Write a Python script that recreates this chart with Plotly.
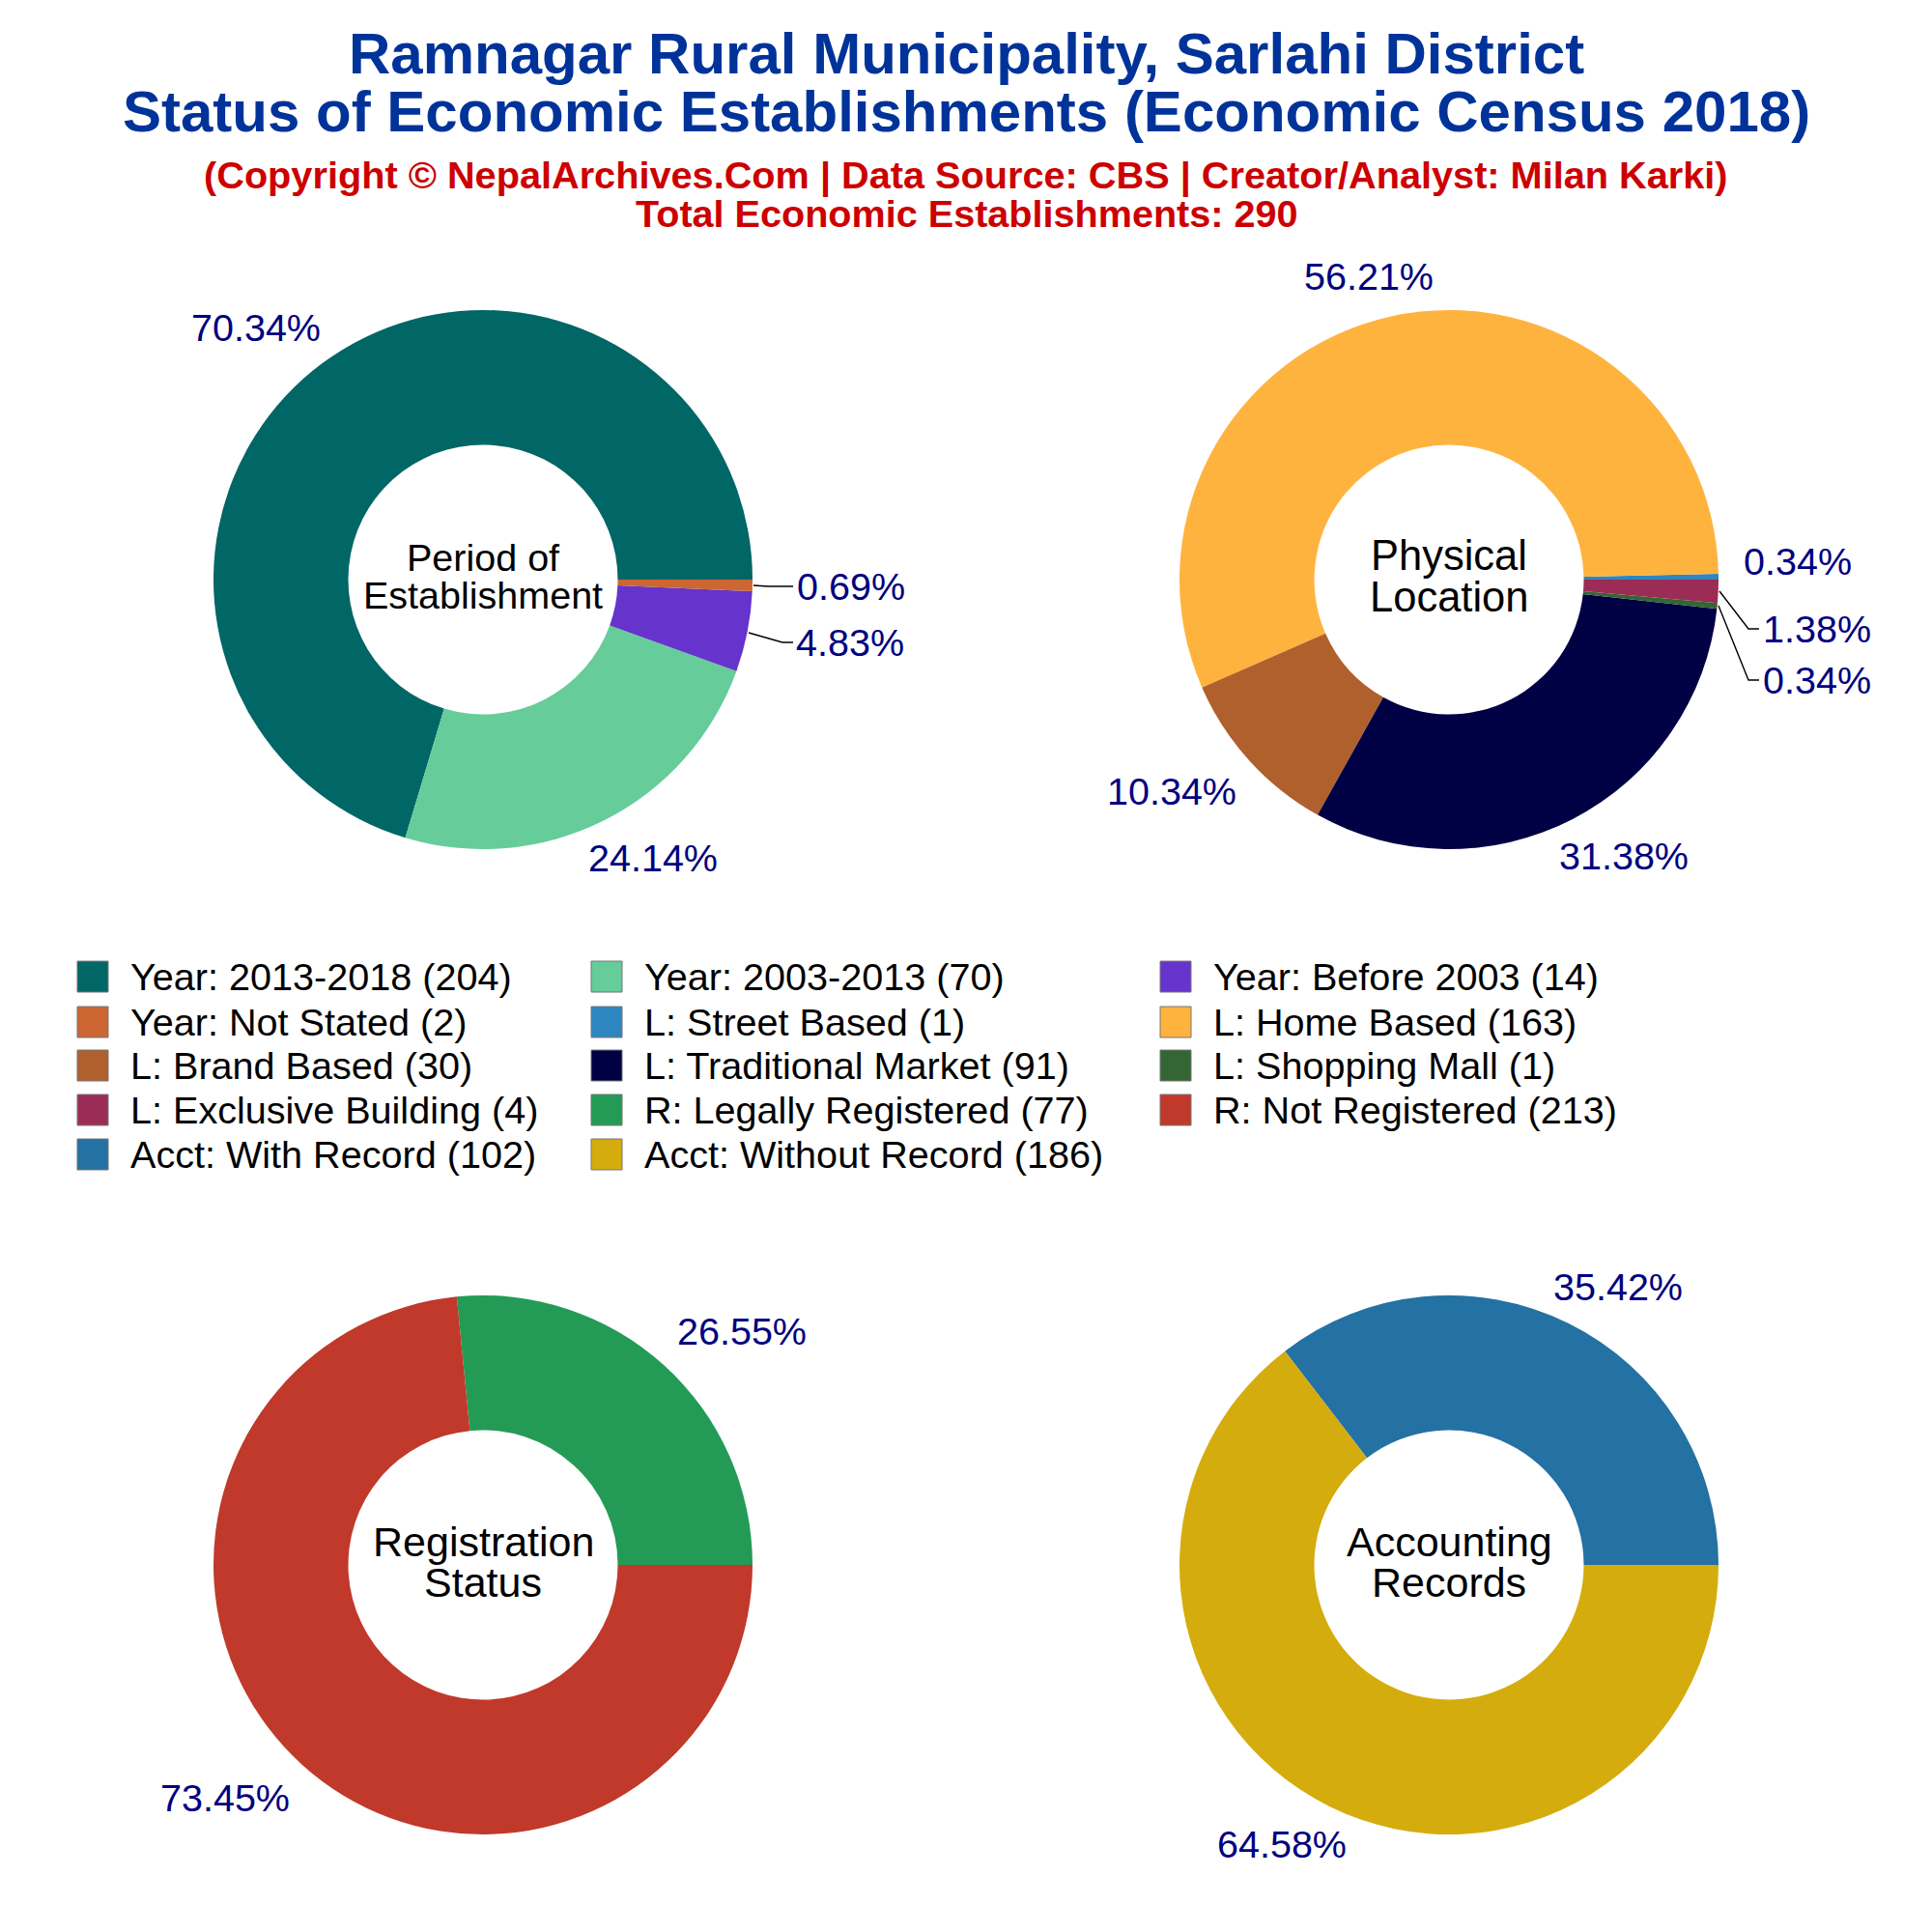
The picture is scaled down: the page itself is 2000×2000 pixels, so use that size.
import plotly.graph_objects as go

FONT = "Liberation Sans"
PAGE_OFFSET = 8  # the page's default body margin
W, H = 1992, 1992

period_labels = ["Year: 2013-2018", "Year: 2003-2013", "Year: Before 2003", "Year: Not Stated"]
period_values = [204, 70, 14, 2]
period_colors = ["#006666", "#66CC99", "#6633CC", "#CC6633"]

location_labels = ["L: Street Based", "L: Home Based", "L: Brand Based", "L: Traditional Market",
                   "L: Shopping Mall", "L: Exclusive Building"]
location_values = [1, 163, 30, 91, 1, 4]
location_colors = ["#2E86C1", "#FFB33F", "#B0602C", "#000044", "#336633", "#9B2C56"]

registration_labels = ["R: Legally Registered", "R: Not Registered"]
registration_values = [77, 213]
registration_colors = ["#239B56", "#C0392B"]

account_labels = ["Acct: With Record", "Acct: Without Record"]
account_values = [102, 186]
account_colors = ["#2471A3", "#D4AC0D"]

title_lines = ["Ramnagar Rural Municipality, Sarlahi District",
               "Status of Economic Establishments (Economic Census 2018)"]
subtitle_lines = ["(Copyright © NepalArchives.Com | Data Source: CBS | Creator/Analyst: Milan Karki)",
                  "Total Economic Establishments: 290"]
center_texts = [["Period of", "Establishment"], ["Physical", "Location"],
                ["Registration", "Status"], ["Accounting", "Records"]]

pies = [(period_values, period_colors, (500, 600)),
        (location_values, location_colors, (1500, 600)),
        (registration_values, registration_colors, (500, 1620)),
        (account_values, account_colors, (1500, 1620))]
pie_labels = [period_labels, location_labels, registration_labels, account_labels]

# page-pixel anchor of each percentage label, per pie, in slice order
label_places = [
    [(264.7, 339), (676.3, 887.5), (880, 665), (880.5, 606.7)],
    [(1860.5, 581), (1416.7, 286.5), (1212.5, 819), (1680.7, 885.8), (1880.5, 704), (1881, 651)],
    [(767.8, 1378), (233.4, 1861)],
    [(1675, 1331.6), (1326.5, 1909)],
]
# elbow connector lines (page pixels)
connectors = [
    [(780, 606), (795, 607), (821, 607)],
    [(775, 655), (810, 665), (821, 665)],
    [(1780, 612), (1810, 651), (1821, 651)],
    [(1779, 627), (1810, 704), (1821, 704)],
]


def px(x):
    return (x - PAGE_OFFSET) / W


def py(y):
    return 1 - (y - PAGE_OFFSET) / H


R = 279
fig = go.Figure()
for labels, (values, colors, (cx, cy)) in zip(pie_labels, pies):
    first_share = values[0] / sum(values)
    fig.add_trace(go.Pie(
        labels=labels, values=values, sort=False, direction="counterclockwise",
        rotation=90 - 360 * first_share,
        hole=0.5, marker=dict(colors=colors, line=dict(width=0)),
        textinfo="none", showlegend=False, automargin=False,
        domain=dict(x=[px(cx - R), px(cx + R)], y=[py(cy + R), py(cy - R)]),
    ))


def text(x, y, s, size, color, bold=False, xanchor="center"):
    fig.add_annotation(x=px(x), y=py(y), xref="paper", yref="paper", text=f"<b>{s}</b>" if bold else s,
                       showarrow=False, xanchor=xanchor, yanchor="middle",
                       font=dict(family=FONT, size=size, color=color))


for s, y in zip(title_lines, (56, 115)):
    text(1000, y, s, 60, "#003399", True)
for s, y, size in zip(subtitle_lines, (182, 221), (39.7, 39.6)):
    text(1000, y, s, size, "#CC0000", True)

center_styles = [(39.5, -23, 16), (43.5, -25, 18), (43, -24, 18), (43, -24, 18)]
for (a, b), (_, _, (cx, cy)), (size, up, down) in zip(center_texts, pies, center_styles):
    text(cx, cy + up, a, size, "#000000")
    text(cx, cy + down, b, size, "#000000")

for (values, _, _), places in zip(pies, label_places):
    total = sum(values)
    for v, (x, y) in zip(values, places):
        text(x, y, f"{v / total * 100:.2f}%", 39.5, "#000080")

for pts in connectors:
    path = "M " + " L ".join(f"{px(x)} {py(y)}" for x, y in pts)
    fig.add_shape(type="path", xref="paper", yref="paper", path=path, line=dict(color="#000000", width=1.4))

# legend: three columns filled row by row
legend_labels = period_labels + location_labels + registration_labels + account_labels
legend_values = period_values + location_values + registration_values + account_values
legend_colors = period_colors + location_colors + registration_colors + account_colors
col_x = [80, 612, 1201]
row_y = [1011, 1058, 1103, 1149, 1195]
for i, (l, v, c) in enumerate(zip(legend_labels, legend_values, legend_colors)):
    x = col_x[i % 3]
    y = row_y[i // 3]
    fig.add_shape(type="rect", xref="paper", yref="paper", x0=px(x), x1=px(x + 32),
                  y0=py(y + 16), y1=py(y - 16), fillcolor=c, line=dict(color="#777777", width=1))
    text(x + 53, y, f"{l} ({v})", 39.6, "#000000", xanchor="left")

fig.update_layout(width=W, height=H, margin=dict(l=0, r=0, t=0, b=0), paper_bgcolor="white",
                  plot_bgcolor="white", showlegend=False)
fig.write_html("out.html")
